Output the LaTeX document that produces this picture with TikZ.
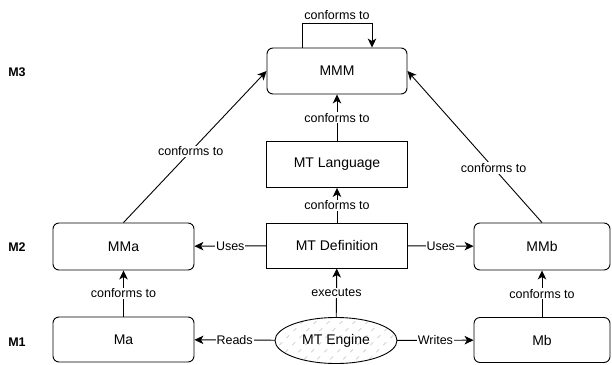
\documentclass[tikz,border=0pt]{standalone}
\usepackage{fontspec}
\setmainfont{Liberation Sans}
\usetikzlibrary{arrows.meta,shapes.geometric}

\tikzset{
  box/.style={draw, line width=0.9pt, minimum height=46pt, inner sep=0pt,
    font=\fontsize{14}{16}\selectfont},
  rbox/.style={box, rounded corners=6pt},
  arr/.style={line width=0.9pt, -{Stealth[length=9pt,width=8.5pt,inset=2.5pt]}},
  lbl/.style={fill=white, inner sep=1pt, font=\fontsize{12.5}{14}\selectfont},
  level/.style={font=\bfseries\fontsize{12.5}{14}\selectfont}
}

\begin{document}
\begin{tikzpicture}[x=1pt,y=-1pt]
\useasboundingbox (0,0) rectangle (612,364);

% level markers
\node[level] (m3) at (17,72) {M3};
\node[level] (m2) at (17,247) {M2};
\node[level] (m1) at (17,342) {M1};

% boxes
\node[rbox, minimum width=140pt] (mmm) at (337,71) {MMM};
\node[box, minimum width=141pt] (mtl) at (337,164.5) {MT Language};
\node[box, minimum width=141pt, minimum height=45pt] (mtd) at (337,245.5) {MT Definition};
\node[rbox, minimum width=141pt, minimum height=47pt] (mma) at (123.5,246.5) {MMa};
\node[rbox, minimum width=136pt, minimum height=47pt] (mmb) at (542,246.5) {MMb};
\node[rbox, minimum width=141pt, minimum height=45pt] (ma) at (123.5,339.5) {Ma};
\node[rbox, minimum width=136pt, minimum height=45pt] (mb) at (542,340) {Mb};

% engine: hatched ellipse
\node[ellipse, minimum width=122pt, minimum height=46pt, inner sep=0pt] (eng) at (336,340.5) {};
\begin{scope}
  \clip (eng.center) ellipse [x radius=61pt, y radius=23pt];
  \fill[white] (eng.center) ellipse [x radius=61pt, y radius=23pt];
  \foreach \k in {-8,...,8}
    \draw[gray!50, line width=0.6pt, dash pattern=on 4pt off 6pt]
      ([xshift=\k*13pt-40pt]eng.center) ++(0,40) -- ++(80,-80);
\end{scope}
\draw[line width=0.9pt] (eng.center) ellipse [x radius=61pt, y radius=23pt];
\node[font=\fontsize{14}{16}\selectfont] at (eng.center) {MT Engine};

% self reference of MMM
\draw[arr] ([xshift=-35pt]mmm.north) -- ++(0,-24) -| node[pos=0.25, above=0pt, font=\fontsize{12.5}{14}\selectfont] {conforms to} ([xshift=35pt]mmm.north);

% vertical conformance
\draw[arr] (mtl) -- node[lbl] {conforms to} (mmm);
\draw[arr] (mtd) -- node[lbl] {conforms to} (mtl);
\draw[arr] (ma) -- node[lbl] {conforms to} (mma);
\draw[arr] (mb) -- node[lbl] {conforms to} (mmb);

% diagonal conformance
\draw[arr] (mma.north) -- node[lbl, pos=0.47] {conforms to} (mmm.west);
\draw[arr] (mmb.north) -- node[lbl, pos=0.36] {conforms to} (mmm.east);

% usage and execution
\draw[arr] (mtd) -- node[lbl] {Uses} (mma);
\draw[arr] (mtd) -- node[lbl] {Uses} (mmb);
\draw[arr] (eng) -- node[lbl] {executes} (mtd);
\draw[arr] (eng) -- node[lbl] {Reads} (ma);
\draw[arr] (eng) -- node[lbl] {Writes} (mb);
\end{tikzpicture}
\end{document}
